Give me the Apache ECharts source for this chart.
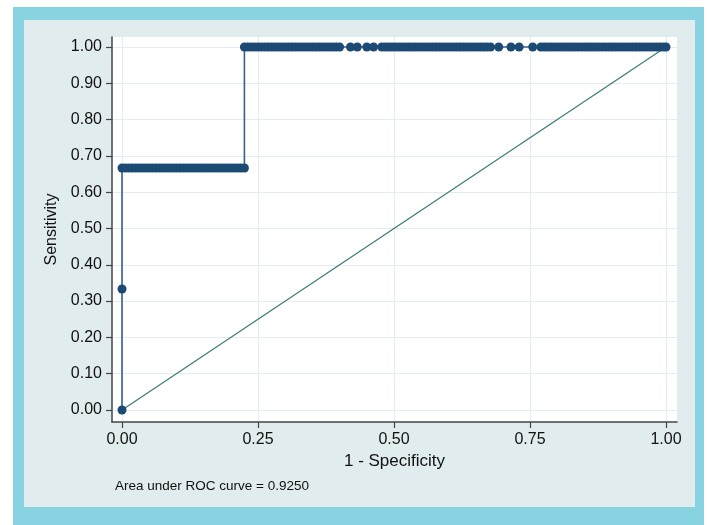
<!DOCTYPE html>
<html><head><meta charset="utf-8">
<script src="https://cdn.jsdelivr.net/npm/echarts@6/dist/echarts.min.js"></script>
<style>html,body{margin:0;padding:0;background:#fff}#c{width:709px;height:525px}</style>
</head><body><div id="c"></div>
<script>
// ROC curve points (1 - specificity, sensitivity)
const rocX = [0, 0, 0,
  0.00625, 0.0125, 0.01875, 0.025, 0.03125, 0.0375, 0.04375, 0.05, 0.05625, 0.0625, 0.06875, 0.075, 0.08125, 0.0875, 0.09375, 0.1,
  0.10625, 0.1125, 0.11875, 0.125, 0.13125, 0.1375, 0.14375, 0.15, 0.15625, 0.1625, 0.16875, 0.175, 0.18125, 0.1875, 0.19375, 0.2,
  0.20625, 0.2125, 0.21875, 0.225,
  0.225, 0.23125, 0.2375, 0.24375, 0.25, 0.25625, 0.2625, 0.26875, 0.275, 0.28125, 0.2875, 0.29375, 0.3, 0.30625, 0.3125, 0.31875,
  0.325, 0.33125, 0.3375, 0.34375, 0.35, 0.35625, 0.3625, 0.36875, 0.375, 0.38125, 0.3875, 0.39375, 0.4,
  0.42, 0.4325, 0.45, 0.4625,
  0.4775, 0.48375, 0.49, 0.49625, 0.5025, 0.50875, 0.515, 0.52125, 0.5275, 0.53375, 0.54, 0.54625, 0.5525, 0.55875, 0.565, 0.57125,
  0.5775, 0.58375, 0.59, 0.59625, 0.6025, 0.60875, 0.615, 0.62125, 0.6275, 0.63375, 0.64, 0.64625, 0.6525, 0.65875, 0.665, 0.67125, 0.6775,
  0.6925, 0.715, 0.73, 0.755,
  0.77, 0.77625, 0.7825, 0.78875, 0.795, 0.80125, 0.8075, 0.81375, 0.82, 0.82625, 0.8325, 0.83875, 0.845, 0.85125, 0.8575, 0.86375,
  0.87, 0.87625, 0.8825, 0.88875, 0.895, 0.90125, 0.9075, 0.91375, 0.92, 0.92625, 0.9325, 0.93875, 0.945, 0.95125, 0.9575, 0.96375,
  0.97, 0.97625, 0.9825, 0.98875, 0.995, 1.0];
const rocY = [0, 0.3333, 0.6667,
  0.6667, 0.6667, 0.6667, 0.6667, 0.6667, 0.6667, 0.6667, 0.6667, 0.6667, 0.6667, 0.6667, 0.6667, 0.6667, 0.6667, 0.6667, 0.6667,
  0.6667, 0.6667, 0.6667, 0.6667, 0.6667, 0.6667, 0.6667, 0.6667, 0.6667, 0.6667, 0.6667, 0.6667, 0.6667, 0.6667, 0.6667, 0.6667,
  0.6667, 0.6667, 0.6667, 0.6667,
  1, 1, 1, 1, 1, 1, 1, 1, 1, 1, 1, 1, 1, 1, 1, 1,
  1, 1, 1, 1, 1, 1, 1, 1, 1, 1, 1, 1, 1,
  1, 1, 1, 1,
  1, 1, 1, 1, 1, 1, 1, 1, 1, 1, 1, 1, 1, 1, 1, 1,
  1, 1, 1, 1, 1, 1, 1, 1, 1, 1, 1, 1, 1, 1, 1, 1, 1,
  1, 1, 1, 1,
  1, 1, 1, 1, 1, 1, 1, 1, 1, 1, 1, 1, 1, 1, 1, 1,
  1, 1, 1, 1, 1, 1, 1, 1, 1, 1, 1, 1, 1, 1, 1, 1,
  1, 1, 1, 1, 1, 1];
// Reference (chance) diagonal
const diagX = [0, 1];
const diagY = [0, 1];
// Tick labels
const xTicks = [0, 0.25, 0.5, 0.75, 1.0];
const yTicks = [0, 0.1, 0.2, 0.3, 0.4, 0.5, 0.6, 0.7, 0.8, 0.9, 1.0];
const aucText = 'Area under ROC curve = 0.9250';
const xTitle = '1 - Specificity';
const yTitle = 'Sensitivity';

const font = '"Liberation Sans", Arial, sans-serif';
const chart = echarts.init(document.getElementById('c'), null, {renderer: 'canvas'});
chart.setOption({
  animation: false,
  backgroundColor: '#ffffff',
  graphic: [
    {type: 'rect', z: -10, silent: true, shape: {x: 13, y: 7, width: 691, height: 518}, style: {fill: '#88d3e1'}},
    {type: 'rect', z: -9, silent: true, shape: {x: 24, y: 20, width: 671, height: 487}, style: {fill: '#e1ecee'}}
  ],
  title: {
    text: aucText, left: 110, top: 474,
    textStyle: {fontFamily: font, fontSize: 13.5, fontWeight: 'normal', color: '#111'}
  },
  grid: {left: 112, right: 32, top: 37, bottom: 103, show: true, backgroundColor: '#ffffff', borderWidth: 0, containLabel: false},
  xAxis: {
    type: 'value', min: -0.0184, max: 1.0202,
    name: xTitle, nameLocation: 'middle', nameGap: 31,
    nameTextStyle: {fontFamily: font, fontSize: 17, color: '#111'},
    axisLine: {show: true, onZero: false, lineStyle: {color: '#444', width: 1.5}},
    axisTick: {show: true, length: 6, customValues: xTicks, lineStyle: {color: '#444', width: 1.2}},
    axisLabel: {customValues: xTicks, margin: 10, fontFamily: font, fontSize: 16, color: '#111', formatter: v => v.toFixed(2)},
    splitLine: {show: true, lineStyle: {color: '#e3edf2', width: 1.2}}
  },
  yAxis: {
    type: 'value', min: -0.0331, max: 1.0275,
    name: yTitle, nameLocation: 'middle', nameGap: 51, nameRotate: 90,
    nameTextStyle: {fontFamily: font, fontSize: 16, color: '#111'},
    axisLine: {show: true, onZero: false, lineStyle: {color: '#444', width: 1.5}},
    axisTick: {show: true, length: 6, customValues: yTicks, lineStyle: {color: '#444', width: 1.2}},
    axisLabel: {customValues: yTicks, margin: 10, fontFamily: font, fontSize: 16, color: '#111', formatter: v => v.toFixed(2)},
    splitLine: {show: true, lineStyle: {color: '#e3edf2', width: 1.2}}
  },
  series: [
    {
      type: 'line', data: diagX.map((x, i) => [x, diagY[i]]),
      showSymbol: false, lineStyle: {color: '#3f7d77', width: 1.3}, z: 2
    },
    {
      type: 'line', data: rocX.map((x, i) => [x, rocY[i]]),
      symbol: 'circle', symbolSize: 9, showAllSymbol: true,
      itemStyle: {color: '#1b4a74'},
      lineStyle: {color: '#3a5d86', width: 1.6}, z: 3
    }
  ]
});
</script></body></html>
